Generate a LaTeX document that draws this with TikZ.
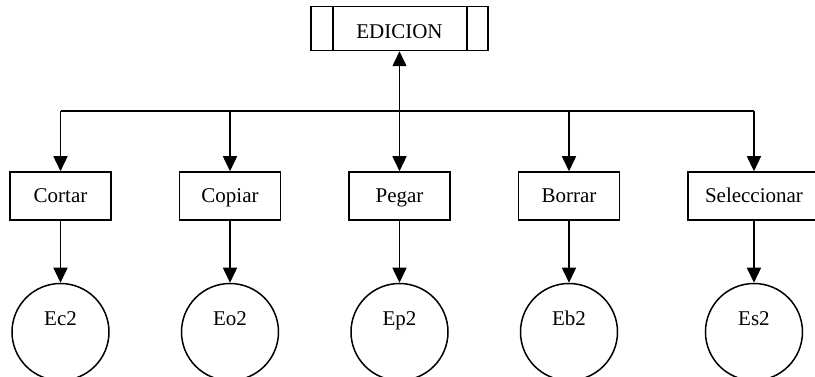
\documentclass[tikz,border=0pt]{standalone}
\usepackage{fontspec}
\setmainfont{Liberation Serif}
\usetikzlibrary{positioning,arrows.meta}

\begin{document}
\begin{tikzpicture}[>={Triangle[width=14pt,length=15pt]},line width=1.5pt,
	node distance=67pt,font=\fontsize{21}{25}\selectfont,
	caja/.style={draw,rectangle,minimum width=101pt,minimum height=48pt,inner xsep=17pt,
		text height=14pt,text depth=0pt},
	estado/.style={draw,circle,minimum size=97pt,text height=14pt,text depth=27pt},
	menu/.style={draw,rectangle,minimum width=177pt,minimum height=44pt,
		text height=21pt,text depth=0pt,
		path picture={
			\draw[line width=1.5pt] ([xshift=22pt]path picture bounding box.south west)
				-- ([xshift=22pt]path picture bounding box.north west);
			\draw[line width=1.5pt] ([xshift=-21pt]path picture bounding box.south east)
				-- ([xshift=-21pt]path picture bounding box.north east);}}]
	\useasboundingbox (0pt,0pt) rectangle (815pt,-377pt);

	\node[caja]	(cortar)	at (60.5pt,-196pt)	{Cortar};
	\node[caja]	(copiar)	[right=of cortar]	{Copiar};
	\node[caja]	(pegar)	[right=of copiar]	{Pegar};
	\node[caja]	(borrar)	[right=of pegar]	{Borrar};
	\node[caja]	(seleccionar)	[right=of borrar]	{Seleccionar};
	\node[menu]	(edicion)	[above=120pt of pegar]	{EDICION};
	\coordinate[below=60pt of edicion]	(bus);

	\node[estado]	(ec2)	[below=62pt of cortar]	{Ec2};
	\node[estado]	(eo2)	[below=62pt of copiar]	{Eo2};
	\node[estado]	(ep2)	[below=62pt of pegar]	{Ep2};
	\node[estado]	(eb2)	[below=62pt of borrar]	{Eb2};
	\node[estado]	(es2)	[below=62pt of seleccionar]	{Es2};

	\draw (bus -| cortar) -- (bus -| seleccionar);
	\path[<->]
		(edicion)	edge	(pegar);
	\path[->]
		(bus -| cortar)	edge	(cortar)
		(bus -| copiar)	edge	(copiar)
		(bus -| borrar)	edge	(borrar)
		(bus -| seleccionar)	edge	(seleccionar)
		(cortar)	edge	(ec2)
		(copiar)	edge	(eo2)
		(pegar)	edge	(ep2)
		(borrar)	edge	(eb2)
		(seleccionar)	edge	(es2)
		;
\end{tikzpicture}
\end{document}
